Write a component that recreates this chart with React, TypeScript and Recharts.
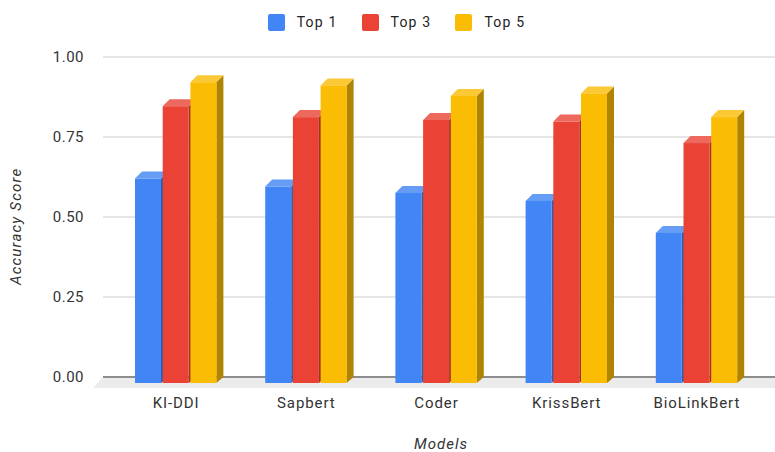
import React from 'react';
import { BarChart, Bar, XAxis, YAxis, CartesianGrid, Legend, usePlotArea } from 'recharts';

const models = ['KI-DDI', 'Sapbert', 'Coder', 'KrissBert', 'BioLinkBert'];
const top1 = [0.642, 0.617, 0.597, 0.572, 0.472];
const top3 = [0.868, 0.834, 0.825, 0.82, 0.753];
const top5 = [0.943, 0.933, 0.9, 0.908, 0.834];
const yTicks = [0, 0.25, 0.5, 0.75, 1];

const data = models.map((name, i) => ({ name, top1: top1[i], top3: top3[i], top5: top5[i] }));

const FONT = 'Roboto, sans-serif';
const DX = 7;
const DY = 6;

// lighter top and darker side for each front colour
const shades: Record<string, { top: string; side: string }> = {
  '#4285F4': { top: '#659DF6', side: '#2E5DAB' },
  '#EA4335': { top: '#EE695D', side: '#A42F25' },
  '#FBBC04': { top: '#FCC936', side: '#B08403' },
};

const Bar3D = (props: any) => {
  const { x, y, width, height, fill } = props;
  const left = x;
  const right = x + width;
  const top = y + DY + 1;
  const bottom = y + height + DY;
  const s = shades[fill];
  return (
    <g>
      <polygon points={`${right},${top} ${right + DX},${y} ${right + DX},${bottom - DY} ${right},${bottom}`} fill={s.side} />
      <polygon points={`${left},${top} ${left + DX},${y} ${right + DX},${y} ${right},${top}`} fill={s.top} />
      <rect x={left} y={top} width={width} height={bottom - top} fill={fill} />
    </g>
  );
};

// grey floor plus the dark zero line, sits under the bars
const Floor = () => {
  const plot = usePlotArea();
  if (!plot) return null;
  const base = plot.y + plot.height;
  const l = plot.x;
  const r = plot.x + plot.width;
  return (
    <g>
      <polygon points={`${l},${base} ${r},${base} ${r},${base + 11} ${l - 10},${base + 11}`} fill="#EBEBEB" />
      <line x1={l} x2={r} y1={base} y2={base} stroke="#333333" />
    </g>
  );
};

const LegendRow = ({ payload }: any) => (
  <div style={{ display: 'flex', justifyContent: 'center', alignItems: 'center', height: 18, paddingLeft: 42 }}>
    {(payload || []).map((item: any) => (
      <div key={item.value} style={{ display: 'flex', alignItems: 'center', marginRight: 24 }}>
        <span style={{ width: 17, height: 17, background: item.color, borderRadius: 2, marginRight: 12 }} />
        <span style={{ fontFamily: FONT, fontSize: 14, letterSpacing: 1.2, color: '#222' }}>{item.value}</span>
      </div>
    ))}
  </div>
);

export default function App() {
  return (
    <div style={{ position: 'absolute', left: 0, top: 0 }}>
      <BarChart
        width={775}
        height={452}
        data={data}
        margin={{ top: 39, right: 0, bottom: 0, left: 0 }}
        barSize={26}
        barGap={1.7}
        barCategoryGap={0}
      >
        <CartesianGrid vertical={false} stroke="#CCCCCC" />
        <Floor />
        <Legend verticalAlign="top" content={<LegendRow />} wrapperStyle={{ top: 13, left: 0, width: 775 }} />
        <XAxis
          dataKey="name"
          height={75}
          padding={{ left: 8, right: 13 }}
          axisLine={false}
          tickLine={false}
          tickSize={0}
          tickMargin={20}
          interval={0}
          tick={{ fontFamily: FONT, fontSize: 15, fill: '#333', letterSpacing: 0.9 }}
          label={{ value: 'Models', position: 'insideBottom', offset: 3, dx: 2, fontFamily: FONT, fontSize: 15, fontStyle: 'italic', fill: '#333', letterSpacing: 1 }}
        />
        <YAxis
          domain={[0, 1]}
          ticks={yTicks}
          width={103}
          axisLine={false}
          tickLine={false}
          tickSize={0}
          tickMargin={19}
          tickFormatter={(v: number) => v.toFixed(2)}
          tick={{ fontFamily: FONT, fontSize: 15, fill: '#333', letterSpacing: 0.5 }}
          label={{ value: 'Accuracy Score', angle: -90, position: 'insideLeft', offset: 16, dy: 68, fontFamily: FONT, fontSize: 15, fontStyle: 'italic', fill: '#333', letterSpacing: 1.2 }}
        />
        <Bar dataKey="top1" name="Top 1" fill="#4285F4" shape={<Bar3D />} isAnimationActive={false} />
        <Bar dataKey="top3" name="Top 3" fill="#EA4335" shape={<Bar3D />} isAnimationActive={false} />
        <Bar dataKey="top5" name="Top 5" fill="#FBBC04" shape={<Bar3D />} isAnimationActive={false} />
      </BarChart>
    </div>
  );
}
